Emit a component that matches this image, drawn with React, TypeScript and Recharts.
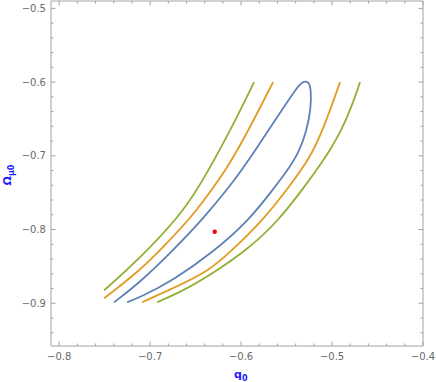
import React from "react";
import { ComposedChart, Line, Scatter, XAxis, YAxis } from "recharts";

// contour curves (q0, Omega_mu0)
const greenLeft = [
  { x: -0.7505, y: -0.8824 },
  { x: -0.711, y: -0.8389 },
  { x: -0.667, y: -0.7806 },
  { x: -0.6462, y: -0.7426 },
  { x: -0.6132, y: -0.6693 },
  { x: -0.5857, y: -0.6 },
];

const orangeLeft = [
  { x: -0.7505, y: -0.8932 },
  { x: -0.711, y: -0.8552 },
  { x: -0.6868, y: -0.8253 },
  { x: -0.6527, y: -0.7806 },
  { x: -0.6286, y: -0.7398 },
  { x: -0.6121, y: -0.71 },
  { x: -0.5923, y: -0.6665 },
  { x: -0.5648, y: -0.6 },
];

const blueLoop = [
  { x: -0.7396, y: -0.8986 },
  { x: -0.711, y: -0.8715 },
  { x: -0.6747, y: -0.828 },
  { x: -0.6451, y: -0.79 },
  { x: -0.611, y: -0.7398 },
  { x: -0.5901, y: -0.7032 },
  { x: -0.5714, y: -0.6679 },
  { x: -0.5538, y: -0.6353 },
  { x: -0.5374, y: -0.6055 },
  { x: -0.532, y: -0.599 },
  { x: -0.5253, y: -0.599 },
  { x: -0.5231, y: -0.6109 },
  { x: -0.5231, y: -0.6353 },
  { x: -0.528, y: -0.6665 },
  { x: -0.5363, y: -0.695 },
  { x: -0.5495, y: -0.7208 },
  { x: -0.5648, y: -0.7453 },
  { x: -0.5912, y: -0.7873 },
  { x: -0.6308, y: -0.8308 },
  { x: -0.6747, y: -0.8688 },
  { x: -0.711, y: -0.8919 },
  { x: -0.7253, y: -0.8986 },
];

const orangeRight = [
  { x: -0.7088, y: -0.8986 },
  { x: -0.6747, y: -0.8796 },
  { x: -0.6374, y: -0.8579 },
  { x: -0.6121, y: -0.8308 },
  { x: -0.5769, y: -0.7887 },
  { x: -0.5484, y: -0.7439 },
  { x: -0.5242, y: -0.7032 },
  { x: -0.5088, y: -0.6611 },
  { x: -0.4912, y: -0.6 },
];

const greenRight = [
  { x: -0.6923, y: -0.8986 },
  { x: -0.667, y: -0.8851 },
  { x: -0.6374, y: -0.8647 },
  { x: -0.5923, y: -0.8267 },
  { x: -0.5593, y: -0.7887 },
  { x: -0.5297, y: -0.741 },
  { x: -0.5154, y: -0.7167 },
  { x: -0.5022, y: -0.6923 },
  { x: -0.4901, y: -0.6665 },
  { x: -0.4791, y: -0.6353 },
  { x: -0.4692, y: -0.6 },
];

const bestFit = [{ x: -0.629, y: -0.803 }];

const xTicks = [
  -0.8, -0.78, -0.76, -0.74, -0.72, -0.7, -0.68, -0.66, -0.64, -0.62, -0.6,
  -0.58, -0.56, -0.54, -0.52, -0.5, -0.48, -0.46, -0.44, -0.42, -0.4,
];
const yTicks = [
  -0.94, -0.92, -0.9, -0.88, -0.86, -0.84, -0.82, -0.8, -0.78, -0.76, -0.74,
  -0.72, -0.7, -0.68, -0.66, -0.64, -0.62, -0.6, -0.58, -0.56, -0.54, -0.52, -0.5,
];

const frameColor = "#a2a2a2";
const labelColor = "#6a6a6a";
const tickFont = { fontFamily: "DejaVu Sans", fontSize: 10, fill: labelColor };

const isMajor = (v: number) => Math.abs(v * 10 - Math.round(v * 10)) < 1e-6;
const fmt = (v: number) => (v < 0 ? "\u2212" : "") + Math.abs(v).toFixed(1);

const BottomTick = ({ x, y, payload }: any) => {
  const major = isMajor(payload.value);
  return (
    <g>
      <line x1={x} x2={x} y1={y} y2={y - (major ? 4.5 : 2.5)} stroke={frameColor} />
      {major && (
        <text x={x} y={y + 13.5} textAnchor="middle" {...tickFont}>
          {fmt(payload.value)}
        </text>
      )}
    </g>
  );
};

const TopTick = ({ x, y, payload }: any) => {
  const major = isMajor(payload.value);
  return <line x1={x} x2={x} y1={y} y2={y + (major ? 4.5 : 2.5)} stroke={frameColor} />;
};

const LeftTick = ({ x, y, payload }: any) => {
  const major = isMajor(payload.value);
  return (
    <g>
      <line x1={x} x2={x + (major ? 4.5 : 2.5)} y1={y} y2={y} stroke={frameColor} />
      {major && (
        <text x={x - 5} y={y + 3.5} textAnchor="end" {...tickFont}>
          {fmt(payload.value)}
        </text>
      )}
    </g>
  );
};

const RightTick = ({ x, y, payload }: any) => {
  const major = isMajor(payload.value);
  return <line x1={x} x2={x - (major ? 4.5 : 2.5)} y1={y} y2={y} stroke={frameColor} />;
};

const curves = [
  { name: "greenLeft", data: greenLeft, color: "#8fb032" },
  { name: "orangeLeft", data: orangeLeft, color: "#e19c24" },
  { name: "blueLoop", data: blueLoop, color: "#5e81b5" },
  { name: "orangeRight", data: orangeRight, color: "#e19c24" },
  { name: "greenRight", data: greenRight, color: "#8fb032" },
];

const axisLabel = {
  position: "absolute" as const,
  color: "#1a1aff",
  fontFamily: "DejaVu Sans",
  fontWeight: "bold" as const,
  fontSize: 11,
  lineHeight: 1,
  whiteSpace: "nowrap" as const,
};

export default function App() {
  const xDomain = [-0.809, -0.4];
  const yDomain = [-0.958, -0.49];
  return (
    <div style={{ position: "absolute", left: 0, top: 0, width: 436, height: 382, background: "#fff" }}>
      <ComposedChart width={436} height={382} margin={{ top: 0, right: 12, bottom: 35, left: 50 }}>
        <XAxis
          xAxisId={0}
          dataKey="x"
          type="number"
          domain={xDomain}
          allowDataOverflow
          ticks={xTicks}
          interval={0}
          height={1}
          tickSize={0}
          tickMargin={0}
          tickLine={false}
          axisLine={{ stroke: frameColor }}
          tick={<BottomTick />}
        />
        <XAxis
          xAxisId="top"
          orientation="top"
          dataKey="x"
          type="number"
          domain={xDomain}
          allowDataOverflow
          ticks={xTicks}
          interval={0}
          height={1}
          tickSize={0}
          tickMargin={0}
          tickLine={false}
          axisLine={{ stroke: frameColor }}
          tick={<TopTick />}
        />
        <YAxis
          yAxisId={0}
          dataKey="y"
          type="number"
          domain={yDomain}
          allowDataOverflow
          ticks={yTicks}
          interval={0}
          width={1}
          tickSize={0}
          tickMargin={0}
          tickLine={false}
          axisLine={{ stroke: frameColor }}
          tick={<LeftTick />}
        />
        <YAxis
          yAxisId="right"
          orientation="right"
          dataKey="y"
          type="number"
          domain={yDomain}
          allowDataOverflow
          ticks={yTicks}
          interval={0}
          width={1}
          tickSize={0}
          tickMargin={0}
          tickLine={false}
          axisLine={{ stroke: frameColor }}
          tick={<RightTick />}
        />
        {curves.map((c) => (
          <Line
            key={c.name}
            data={c.data}
            dataKey="y"
            type="basis"
            stroke={c.color}
            strokeWidth={1.8}
            dot={false}
            activeDot={false}
            isAnimationActive={false}
          />
        ))}
        <Scatter
          data={bestFit}
          dataKey="y"
          isAnimationActive={false}
          shape={(p: any) => <circle cx={p.cx} cy={p.cy} r={2.2} fill="#ff0000" />}
        />
      </ComposedChart>
      <div style={{ ...axisLabel, left: 234, top: 369 }}>
        q<sub style={{ fontSize: 8 }}>0</sub>
      </div>
      <div
        style={{
          ...axisLabel,
          left: 9,
          top: 175,
          transform: "translate(-50%, -50%) rotate(-90deg)",
        }}
      >
        Ω<sub style={{ fontSize: 8 }}>μ0</sub>
      </div>
    </div>
  );
}
